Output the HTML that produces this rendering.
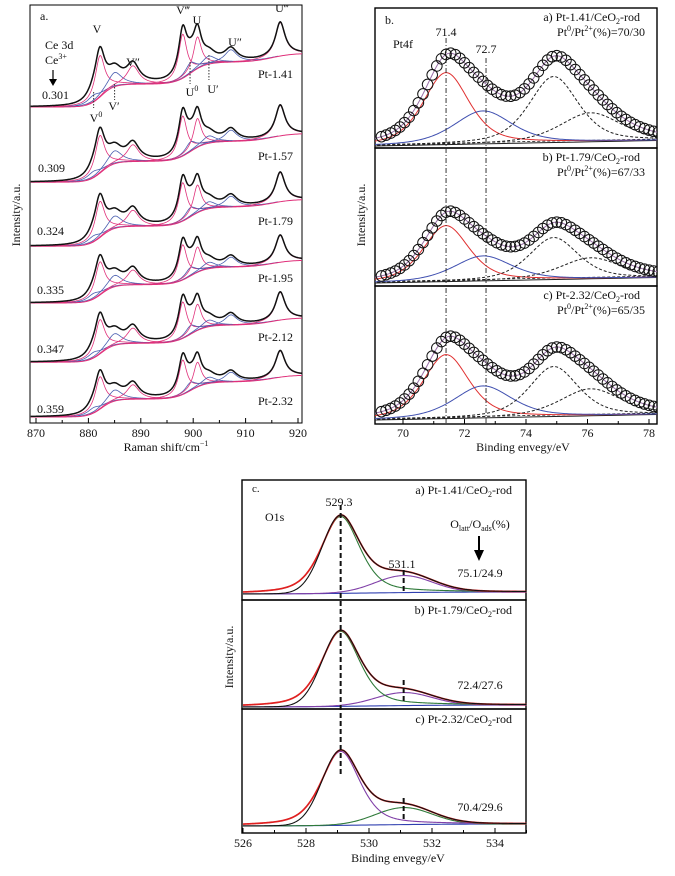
<!DOCTYPE html>
<html><head><meta charset="utf-8"><style>
html,body{margin:0;padding:0;background:#fff;}
svg{display:block;font-family:"Liberation Serif",serif;}
text{fill:#111;}
</style></head><body>
<svg id="fig" width="675" height="876" viewBox="0 0 675 876" xmlns="http://www.w3.org/2000/svg">
<g id="pa"></g>
<g id="pb"></g>
<g id="pc"></g>
</svg>
<script>
// ---------- Panel a data ----------
const ramanCenters = [881, 882.2, 885, 888.5, 898, 899.5, 900.8, 903, 907.2, 916.6];
const ramanLabels  = ["V0","V","V'","V''","V'''","U0","U","U'","U''","U'''"];
const ramanHeights = [0.08, 0.47, 0.16, 0.21, 0.50, 0.12, 0.36, 0.09, 0.14, 0.38];
const ramanWidths  = [1.5, 1.1, 1.6, 1.4, 0.95, 1.2, 0.9, 1.5, 1.4, 1.1];
const ramanPink    = [false, true, false, true, true, false, true, false, false, true];
const sampleNames  = ["Pt-1.41","Pt-1.57","Pt-1.79","Pt-1.95","Pt-2.12","Pt-2.32"];
const ce3Values    = ["0.301","0.309","0.324","0.335","0.347","0.359"];
const ramanOffsets = [3.95, 3.01, 2.21, 1.50, 0.76, 0.075];
const ramanScales  = [1.10, 1.00, 0.96, 0.88, 0.91, 0.86];
const ramanTicks   = [870, 880, 890, 900, 910, 920];
// ---------- Panel b data ----------
const ptCenters = [71.4, 72.6, 74.9, 76.1];
const ptWidths  = [0.75, 0.95, 0.8, 1.0];
const ptHeights1 = [72, 33, 66, 29];
const ptHeights2 = [56, 25, 42, 21];
const ptHeights3 = [64, 32, 50, 27];
const ptNames = ["a) Pt-1.41/CeO","b) Pt-1.79/CeO","c) Pt-2.32/CeO"];
const ptRatios = ["70/30","67/33","65/35"];
const ptTicks = [70, 72, 74, 76, 78];
// ---------- Panel c data ----------
const oCenters = [529.1, 531.1];
const oWidths  = [0.62, 0.9];
const oMain    = [77, 75, 74];
const oSecond  = [17, 13, 17];
const oNames   = ["a) Pt-1.41/CeO","b) Pt-1.79/CeO","c) Pt-2.32/CeO"];
const oRatios  = ["75.1/24.9","72.4/27.6","70.4/29.6"];
const oTicks   = [526, 528, 530, 532, 534];

const NS = "http://www.w3.org/2000/svg";
function mk(parent, tag, attrs){const e=document.createElementNS(NS,tag);for(const k in attrs)e.setAttribute(k,attrs[k]);parent.appendChild(e);return e;}
function txt(parent,x,y,s,size,anchor){const t=mk(parent,"text",{x:x,y:y,"font-size":size||12,"text-anchor":anchor||"start"});t.innerHTML=s;return t;}
function curve(parent,fx,fy,x0,x1,n,color,w,dash){let d="";for(let i=0;i<=n;i++){const v=x0+(x1-x0)*i/n;d+=(i?"L":"M")+fx(v).toFixed(2)+","+fy(v).toFixed(2);}const p=mk(parent,"path",{d:d,fill:"none",stroke:color,"stroke-width":w||1});if(dash)p.setAttribute("stroke-dasharray",dash);return p;}
const lor=(x,c,w)=>1/(1+((x-c)/w)**2);
const gau=(x,c,w)=>Math.exp(-0.5*((x-c)/w)**2);
const pv=(x,c,w)=>0.5*gau(x,c,w)+0.5*lor(x,c,w*1.18);
const sig=z=>1/(1+Math.exp(-z));

// ================= Panel A =================
(function(){
const g=document.getElementById("pa");
const L=30,R=302,T=5,B=423;
const xA=v=>36+(v-870)*5.24;
const yA=v=>423-v*80;
mk(g,"rect",{x:L,y:T,width:R-L,height:B-T,fill:"none",stroke:"#000","stroke-width":1});
for(let v=870;v<=920;v+=5){const big=v%10===0;mk(g,"line",{x1:xA(v),x2:xA(v),y1:B,y2:B-(big?5:3),stroke:"#000"});}
ramanTicks.forEach(v=>{const t=txt(g,xA(v),437,v,12,"middle");});
const xt=txt(g,166,451,"Raman shift/cm<tspan font-size='8' dy='-5'>−1</tspan>",12,"middle");

const yt=txt(g,0,0,"Intensity/a.u.",12,"middle");yt.setAttribute("transform","translate(20,215) rotate(-90)");

const bg=x=>0.26*sig((x-882.5)/1.2)+0.25*sig((x-899.5)/1.5)+0.1*sig((x-915)/2);
const pk=(x,i)=>ramanHeights[i]*lor(x,ramanCenters[i],ramanWidths[i]);
const cpA=mk(g,"clipPath",{id:"clipa"});mk(cpA,"rect",{x:L,y:T,width:R-L,height:B-T});
const ga=mk(g,"g",{"clip-path":"url(#clipa)"});
sampleNames.forEach((nm,s)=>{
  const sg=mk(ga,"g",{});
  
  
  const off=ramanOffsets[s],sc=ramanScales[s];
  const fy=f=>x=>yA(off+sc*f(x));
  ramanCenters.forEach((c,i)=>{
    curve(sg,xA,fy(x=>bg(x)+pk(x,i)),Math.max(869,c-9),Math.min(920.8,c+9),120,ramanPink[i]?"#e0307a":"#4a5fb0",0.8);
  });
  curve(sg,xA,fy(bg),869,920.8,200,"#e0307a",1);
  curve(sg,xA,fy(x=>bg(x)+ramanCenters.reduce((a,c,i)=>a+pk(x,i),0)),869,920.8,400,"#111",1.5);
  const lab=txt(g,258,[78,160,225,282,341,405][s],nm,12);
  
  const cv=txt(g,[42,38,37,37,37,37][s],[99,172,235,294,353,413][s],ce3Values[s],12);
  
});
txt(g,40,20,"a.",12);
txt(g,45,49,"Ce 3d",12);txt(g,45,64,"Ce<tspan font-size='8' dy='-5'>3+</tspan>",12);
mk(g,"line",{x1:53,x2:53,y1:70,y2:80,stroke:"#000","stroke-width":1.2});
mk(g,"path",{d:"M49,79 L57,79 L53,86 Z",fill:"#000"});
txt(g,97,33,"V",12,"middle");txt(g,183,14,"V‴",12,"middle");txt(g,197,24,"U",12,"middle");
txt(g,235,46,"U″",12,"middle");txt(g,282,12,"U‴",12,"middle");txt(g,133,66,"V″",12,"middle");
txt(g,114,110,"V′",12,"middle");txt(g,192,96,"U<tspan font-size='8' dy='-5'>0</tspan>",12,"middle");
txt(g,213,93,"U′",12,"middle");txt(g,96,122,"V<tspan font-size='8' dy='-5'>0</tspan>",12,"middle");
[[881,92,108],[885,84,100],[899.4,62,84],[903,55,80]].forEach(d=>mk(g,"line",{x1:xA(d[0]),x2:xA(d[0]),y1:d[1],y2:d[2],stroke:"#333","stroke-dasharray":"1.5,1.5"}));
})();

// ================= Panel B =================
(function(){
const g=document.getElementById("pb");
const L=375,R=657,T=8,B=424;
const xB=v=>403+(v-70)*30.75;
const bounds=[[8,148],[148,286],[286,424]];
const bases=[146,283,420];
const hs=[ptHeights1,ptHeights2,ptHeights3];
const cols=["#e03030","#4050b0","#222","#222"];
bounds.forEach((bd,s)=>{
  const sg=mk(g,"g",{});
  
  
  mk(sg,"rect",{x:L,y:bd[0],width:R-L,height:bd[1]-bd[0],fill:"none",stroke:"#000","stroke-width":1.4});
  const base=x=>bases[s]-(x-69.1)*0.6;
  const comp=(x,i)=>hs[s][i]*pv(x,ptCenters[i],ptWidths[i]);
  const tot=x=>ptCenters.reduce((a,c,i)=>a+comp(x,i),0);
  const clipId="clipb"+s;
  const cp=mk(sg,"clipPath",{id:clipId});mk(cp,"rect",{x:L,y:bd[0],width:R-L,height:bd[1]-bd[0]});
  const cg=mk(sg,"g",{"clip-path":"url(#"+clipId+")"});
  curve(cg,xB,base,69,78.5,20,"#222",1);
  curve(cg,xB,x=>base(x)-1.5,69,78.5,20,"#222",0.8,"3,2");
  ptCenters.forEach((c,i)=>curve(cg,xB,x=>base(x)-comp(x,i),69,78.5,200,cols[i],1,i>=2?"3,2":null));
  curve(cg,xB,x=>base(x)-tot(x),69,78.5,200,"#9a70a8",1);
  for(let v=69.3;v<=78.45;v+=0.15){
    const c=mk(cg,"circle",{cx:xB(v),cy:base(v)-tot(v),r:5.3,fill:"none",stroke:"#111","stroke-width":1.0});
    
    
  }
  const t1=txt(sg,640,bd[0]+13,ptNames[s]+"<tspan font-size='8' dy='3'>2</tspan><tspan dy='-3'>-rod</tspan>",12,"end");
  
  const t2=txt(sg,645,bd[0]+28,"Pt<tspan font-size='8' dy='-5'>0</tspan><tspan dy='5'>/Pt</tspan><tspan font-size='8' dy='-5'>2+</tspan><tspan dy='5'>(%)="+ptRatios[s]+"</tspan>",12,"end");
  
});
for(let v=70;v<=78;v+=1){mk(g,"line",{x1:xB(v),x2:xB(v),y1:B,y2:B-(v%2===0?5:3),stroke:"#000"});}
ptTicks.forEach(v=>{const t=txt(g,xB(v),437,v,12,"middle");});
const xt=txt(g,523,451,"Binding envegy/eV",12,"middle");
const yt=txt(g,0,0,"Intensity/a.u.",12,"middle");yt.setAttribute("transform","translate(365,215) rotate(-90)");

[[71.4,38],[72.7,58]].forEach(d=>{const l=mk(g,"line",{x1:xB(d[0]),x2:xB(d[0]),y1:d[1],y2:424,stroke:"#222","stroke-width":0.9,"stroke-dasharray":"5,2,1,2"});});
txt(g,385,24,"b.",12);txt(g,xB(71.4),36,"71.4",12,"middle");txt(g,xB(72.7),53,"72.7",12,"middle");txt(g,393,48,"Pt4f",12);
})();

// ================= Panel C =================
(function(){
const g=document.getElementById("pc");
const L=242,R=526,T=480,B=833;
const xC=v=>243+(v-526)*31.5;
const bounds=[[480,600],[600,709],[709,833]];
const bases=[595,708,827];
bounds.forEach((bd,s)=>{
  const sg=mk(g,"g",{});
  
  
  mk(sg,"rect",{x:L,y:bd[0],width:R-L,height:bd[1]-bd[0],fill:"none",stroke:"#000","stroke-width":1.4});
  const base=x=>bases[s]-2*sig((x-530)/1.2)-1;
  const m=x=>oMain[s]*(0.5*gau(x,oCenters[0],oWidths[0])+0.5*lor(x,oCenters[0],oWidths[0]*1.15));
  const mData=x=>oMain[s]*(x<oCenters[0]?gau(x,oCenters[0],oWidths[0]*0.95):(0.5*gau(x,oCenters[0],oWidths[0])+0.5*lor(x,oCenters[0],oWidths[0]*1.15)));
  const sc=x=>oSecond[s]*gau(x,oCenters[1],oWidths[1]);
  const cm=s===2?"#8040a8":"#2f7a3a", cs=s===2?"#2f7a3a":"#8040a8";
  curve(sg,xC,base,526,535,60,"#3040b0",1.1);
  curve(sg,xC,x=>base(x)-sc(x),526,535,200,cs,1.1);
  curve(sg,xC,x=>base(x)-m(x),526,535,300,cm,1.1);
  curve(sg,xC,x=>base(x)-m(x)-sc(x),526,535,300,"#e02020",1.7);
  curve(sg,xC,x=>base(x)-mData(x)-sc(x),526,535,300,"#111",1.1);
  const t1=txt(sg,512,bd[0]+14,oNames[s]+"<tspan font-size='8' dy='3'>2</tspan><tspan dy='-3'>-rod</tspan>",12,"end");
  
  const t2=txt(sg,480,[577,689,811][s],oRatios[s],12,"middle");
  
});
for(let v=526;v<=535;v+=1){mk(g,"line",{x1:xC(v),x2:xC(v),y1:B,y2:B-(v%2===0?5:3),stroke:"#000"});}
oTicks.forEach(v=>{const t=txt(g,xC(v),847,v,12,"middle");});
const xt=txt(g,398,862,"Binding envegy/eV",12,"middle");
const yt=txt(g,0,0,"Intensity/a.u.",12,"middle");yt.setAttribute("transform","translate(233,657) rotate(-90)");

const rl=mk(g,"line",{x1:xC(oCenters[0]),x2:xC(oCenters[0]),y1:505,y2:775,stroke:"#111","stroke-width":2,"stroke-dasharray":"5,3"});

[[570,593],[680,703],[798,820]].forEach(d=>mk(g,"line",{x1:xC(oCenters[1]),x2:xC(oCenters[1]),y1:d[0],y2:d[1],stroke:"#111","stroke-width":2,"stroke-dasharray":"5,3"}));
txt(g,252,492,"c.",11);txt(g,339,506,"529.3",12,"middle");txt(g,265,521,"O1s",12);
txt(g,402,568,"531.1",12,"middle");
txt(g,480,528,"O<tspan font-size='8' dy='3'>latt</tspan><tspan dy='-3'>/O</tspan><tspan font-size='8' dy='3'>ads</tspan><tspan dy='-3'>(%)</tspan>",12,"middle");
mk(g,"line",{x1:479,x2:479,y1:536,y2:551,stroke:"#000","stroke-width":2});
mk(g,"path",{d:"M474,550 L484,550 L479,561 Z",fill:"#000"});
})();
</script>
</body></html>
